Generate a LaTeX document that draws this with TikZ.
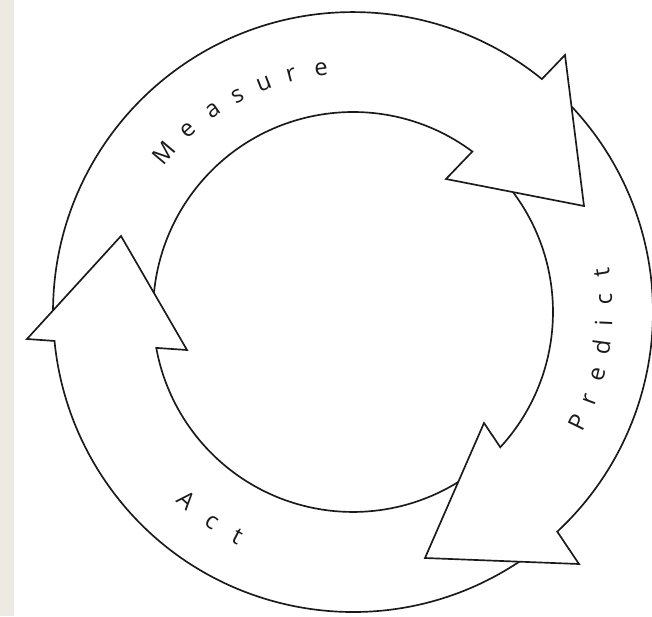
\documentclass[tikz,border=0pt]{standalone}
\usepackage{fontspec}
\setmainfont{Open Sans}
\definecolor{stripcol}{HTML}{EDEAE3}
\definecolor{inkcol}{HTML}{1A1A1A}
\begin{document}
\begin{tikzpicture}[x=0.02cm,y=0.02cm,
  ring/.style={line width=0.95pt, line join=miter, draw=inkcol},
  lbl/.style={font=\fontsize{13.5}{16}\selectfont, anchor=base, inner sep=0pt, text=inkcol}]
\useasboundingbox (-353,-304) rectangle (299,312);
\fill[white] (-353,-304) rectangle (299,312);
\fill[stripcol] (-353,-304) rectangle (-339,312);
% arrowhead corners
\coordinate (mA) at (212,257);
\coordinate (mB) at (231,106);
\coordinate (mC) at (93,133);
\coordinate (pQ1) at (131,-111);
\coordinate (pQ2) at (226,-252);
\coordinate (pT) at (72,-246);
\coordinate (aL) at (-326,-27);
\coordinate (aP) at (-232,76);
\coordinate (aR) at (-166,-38);
% Measure arrow
\draw[ring] (179.7:300) arc[start angle=179.7, end angle=50.95, radius=6cm]
  -- (mA) -- (mB) -- (mC) -- (53.36:200) arc[start angle=53.36, end angle=174.52, radius=4cm];
% Predict arrow
\draw[ring] (43.26:300) arc[start angle=43.26, end angle=-47.09, radius=6cm]
  -- (pQ2) -- (pT) -- (pQ1) -- (-42.55:200) arc[start angle=-42.55, end angle=36.83, radius=4cm];
% Act arrow
\draw[ring] (-56.34:300) arc[start angle=-56.34, end angle=-174.47, radius=6cm]
  -- (aL) -- (aP) -- (aR) -- (-169.66:200) arc[start angle=-169.66, end angle=-58.26, radius=4cm];
% labels
\foreach \ch/\ang [count=\i] in {M/139.8, e/132.2, a/124.8, s/118.1, u/111.3, r/104.6, e/97.5}
  \node[lbl, rotate=\ang-90] (meas\i) at (\ang:238.5) {\ch};
\foreach \ch/\ang [count=\i] in {P/-26.1, r/-20.4, e/-14.4, d/-8.0, i/-2.5, c/2.9, t/8.9}
  \node[lbl, rotate=\ang+90] (pred\i) at (\ang:259.5) {\ch};
\foreach \ch/\ang [count=\i] in {A/228.5, c/236.2, t/242.7}
  \node[lbl, rotate=\ang+90] (act\i) at (\ang:260) {\ch};
\end{tikzpicture}
\end{document}
